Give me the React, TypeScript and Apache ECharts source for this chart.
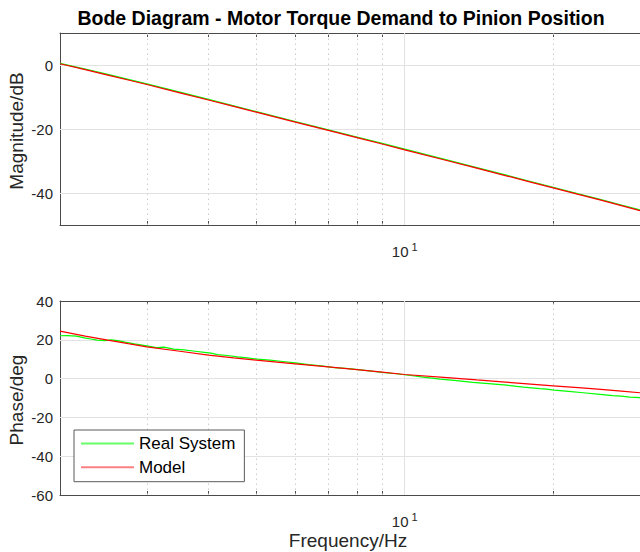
import React, { useEffect, useRef } from "react";
import * as echarts from "echarts";

// Frequency points (Hz) of the fitted model response
const FREQ_MODEL = [2, 2.25, 2.5, 2.75, 3, 3.5, 4, 4.5, 5, 6, 7, 8, 9, 10, 12, 14, 16, 18, 20, 22.5, 25, 27.5, 30];
// Model magnitude (dB) and phase (deg)
const MAG_MODEL = [0.4, -1.45, -3.15, -4.7, -6.1, -8.7, -10.95, -12.95, -14.75, -17.85, -20.45, -22.7, -24.7, -26.5, -29.6, -32.25, -34.55, -36.6, -38.4, -40.45, -42.25, -43.95, -45.5];
const PHASE_MODEL = [24.5, 21.9, 19.8, 18.0, 16.4, 14.1, 12.1, 10.7, 9.5, 7.6, 6.0, 4.6, 3.3, 2.1, 0.6, -0.7, -1.8, -2.8, -3.7, -4.7, -5.6, -6.5, -7.3];

// Measured magnitude of the real system (dB), same frequency points as the model
const MAG_REAL = [0.5, -1.3, -2.95, -4.5, -5.9, -8.5, -10.75, -12.75, -14.55, -17.65, -20.25, -22.5, -24.5, -26.3, -29.4, -32.05, -34.35, -36.4, -38.2, -40.25, -42.05, -43.75, -45.3];

// Measured phase of the real system
const FREQ_REAL_PHASE = [
  2.0, 2.07, 2.16, 2.24, 2.31, 2.38, 2.46, 2.54, 2.62, 2.71, 2.83, 3.0, 3.14, 3.25, 3.4, 3.57, 3.76, 3.96, 4.05,
  4.17, 4.37, 4.58, 4.8, 5.03, 5.33, 5.66, 6.0, 6.38, 6.77, 7.2, 7.7, 8.3, 9.0, 9.6, 10.3, 11.0, 11.8, 12.6,
  13.75, 14.8, 16.1, 17.4, 18.8, 19.4, 20.1, 21.5, 23.0, 24.6, 26.4, 27.5, 28.6, 30,
];
const PHASE_REAL = [
  22.1, 22.2, 21.9, 21.0, 20.4, 19.8, 19.6, 20.0, 19.6, 18.8, 17.9, 16.9, 16.0, 16.2, 15.2, 14.8, 14.1, 13.4, 13.1,
  12.4, 11.9, 11.2, 10.7, 10.0, 9.5, 8.8, 8.1, 7.2, 6.6, 5.7, 5.1, 4.2, 3.2, 2.5, 1.6, 0.6, -0.3, -0.9,
  -1.9, -2.6, -3.4, -4.4, -5.2, -5.4, -5.9, -6.6, -7.3, -8.0, -8.8, -9.0, -9.5, -9.8,
];

// Axis ticks
const X_MINOR_TICKS = [3, 4, 5, 6, 7, 8, 9, 20];
const X_MAJOR_TICKS = [10];
const MAG_TICKS = [-40, -20, 0];
const PHASE_TICKS = [-60, -40, -20, 0, 20, 40];
const PHASE_GRID = [-40, -20, 0, 20];

const FONT = "'Liberation Sans', Arial, Helvetica, sans-serif";
const AXIS_COLOR = "#4a4a4a";
const TEXT_COLOR = "#262626";
const GRID_COLOR = "#e2e2e2";
const MINOR_GRID_COLOR = "#cccccc";
const GREEN = "#00ff00";
const RED = "#ff0000";

const zip = (xs: number[], ys: number[]) => xs.map((x, i) => [x, ys[i]]);

function xAxis(gridIndex: number, position: "top" | "bottom", showLabels: boolean) {
  return {
    type: "log",
    logBase: 10,
    gridIndex,
    position,
    min: 2,
    max: 30,
    axisLine: { show: true, onZero: false, lineStyle: { color: AXIS_COLOR, width: 1 } },
    axisTick: {
      show: true,
      inside: true,
      length: 4,
      customValues: [...X_MINOR_TICKS, ...X_MAJOR_TICKS].sort((a, b) => a - b),
      lineStyle: { color: AXIS_COLOR },
    },
    axisLabel: showLabels
      ? {
          show: true,
          customValues: X_MAJOR_TICKS,
          margin: 19,
          formatter: (v: number) => `{base|10}{exp|${Math.round(Math.log10(v))}}`,
          rich: {
            base: { fontSize: 15, lineHeight: 15, fontFamily: FONT, color: TEXT_COLOR },
            exp: { fontSize: 11, lineHeight: 11, fontFamily: FONT, color: TEXT_COLOR, padding: [0, 0, 10, 3] },
          },
        }
      : { show: false },
    splitLine: { show: false },
  };
}

function yAxis(gridIndex: number, min: number, max: number, ticks: number[]) {
  return {
    type: "value",
    gridIndex,
    min,
    max,
    axisLine: { show: true, onZero: false, lineStyle: { color: AXIS_COLOR, width: 1 } },
    axisTick: { show: true, inside: true, length: 5, customValues: ticks, lineStyle: { color: AXIS_COLOR } },
    axisLabel: { show: true, customValues: ticks, margin: 7, fontSize: 15, fontFamily: FONT, color: TEXT_COLOR },
    splitLine: { show: false },
  };
}

function gridLines(hValues: number[]) {
  const data: any[] = [];
  X_MINOR_TICKS.forEach((v) =>
    data.push({ xAxis: v, lineStyle: { color: MINOR_GRID_COLOR, type: [1.5, 3.5], width: 1 } })
  );
  X_MAJOR_TICKS.forEach((v) => data.push({ xAxis: v, lineStyle: { color: GRID_COLOR, type: "solid", width: 1 } }));
  hValues.forEach((v) => data.push({ yAxis: v, lineStyle: { color: GRID_COLOR, type: "solid", width: 1 } }));
  return {
    silent: true,
    symbol: ["none", "none"],
    label: { show: false },
    z: 1,
    animation: false,
    data,
  };
}

function lineSeries(name: string, color: string, data: number[][], xIdx: number, yIdx: number, z: number, markLine?: any) {
  return {
    name,
    type: "line",
    xAxisIndex: xIdx,
    yAxisIndex: yIdx,
    data,
    symbol: "none",
    showSymbol: false,
    smooth: false,
    lineStyle: { color, width: 1.2 },
    itemStyle: { color },
    z,
    ...(markLine ? { markLine } : {}),
  };
}

const option = {
  animation: false,
  backgroundColor: "#ffffff",
  grid: [
    { left: 60, top: 33, width: 580, height: 192, containLabel: false },
    { left: 60, top: 301, width: 580, height: 194, containLabel: false },
  ],
  xAxis: [xAxis(0, "bottom", true), xAxis(0, "top", false), xAxis(1, "bottom", true), xAxis(1, "top", false)],
  yAxis: [yAxis(0, -50, 10, MAG_TICKS), yAxis(1, -60, 40, PHASE_TICKS)],
  legend: {
    data: [
      { name: "Real System", lineStyle: { color: "#66ff66", width: 2 } },
      { name: "Model", lineStyle: { color: "#ff8080", width: 2 } },
    ],
    orient: "vertical",
    left: 74,
    top: 430,
    padding: [5, 9, 6, 6],
    itemWidth: 53,
    itemHeight: 17,
    itemGap: 6.7,
    borderColor: "#5a5a5a",
    borderWidth: 1,
    borderRadius: 0,
    backgroundColor: "#ffffff",
    itemStyle: { opacity: 0 },
    textStyle: { fontSize: 17, fontFamily: FONT, color: "#000000" },
  },
  series: [
    lineSeries("Real System", GREEN, zip(FREQ_MODEL, MAG_REAL), 0, 0, 2, gridLines(MAG_TICKS)),
    lineSeries("Model", RED, zip(FREQ_MODEL, MAG_MODEL), 0, 0, 3),
    lineSeries("Real System", GREEN, zip(FREQ_REAL_PHASE, PHASE_REAL), 2, 1, 2, gridLines(PHASE_GRID)),
    lineSeries("Model", RED, zip(FREQ_MODEL, PHASE_MODEL), 2, 1, 3),
  ],
  graphic: [
    {
      type: "text",
      x: 341,
      y: 18,
      style: {
        text: "Bode Diagram - Motor Torque Demand to Pinion Position",
        fontSize: 19.5,
        fontWeight: "bold",
        fontFamily: FONT,
        fill: "#000000",
        align: "center",
        verticalAlign: "middle",
      },
    },
    {
      type: "text",
      x: 16,
      y: 131,
      rotation: Math.PI / 2,
      style: {
        text: "Magnitude/dB",
        fontSize: 19,
        fontFamily: FONT,
        fill: TEXT_COLOR,
        align: "center",
        verticalAlign: "middle",
      },
    },
    {
      type: "text",
      x: 16,
      y: 400,
      rotation: Math.PI / 2,
      style: {
        text: "Phase/deg",
        fontSize: 19,
        fontFamily: FONT,
        fill: TEXT_COLOR,
        align: "center",
        verticalAlign: "middle",
      },
    },
    {
      type: "text",
      x: 348,
      y: 540,
      style: {
        text: "Frequency/Hz",
        fontSize: 19,
        fontFamily: FONT,
        fill: TEXT_COLOR,
        align: "center",
        verticalAlign: "middle",
      },
    },
  ],
};

export default function App() {
  const ref = useRef<HTMLDivElement>(null);
  useEffect(() => {
    if (!ref.current) return;
    const chart = echarts.init(ref.current, null, { renderer: "svg" });
    chart.setOption(option as any);
    return () => chart.dispose();
  }, []);
  return (
    <div
      ref={ref}
      style={{ position: "fixed", left: 0, top: 0, width: 640, height: 552, background: "#ffffff" }}
    />
  );
}
